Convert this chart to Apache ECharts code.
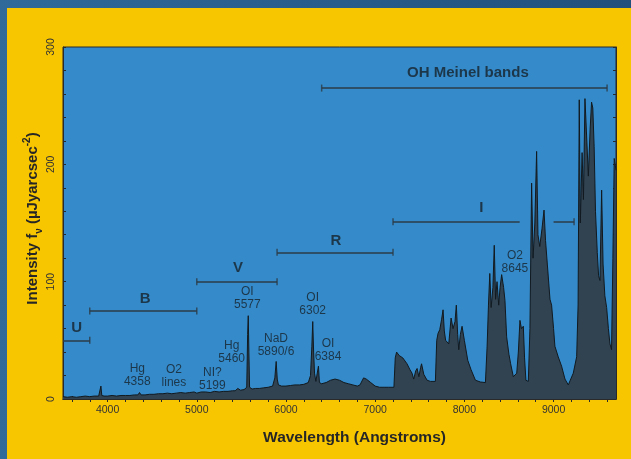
<!DOCTYPE html>
<html>
<head>
<meta charset="utf-8">
<script src="https://cdn.jsdelivr.net/npm/echarts@6/dist/echarts.min.js"></script>
<style>
html, body { margin: 0; padding: 0; width: 631px; height: 459px; overflow: hidden; background: linear-gradient(90deg, #2f6a9a, #22507c); }
#frame { position: absolute; left: 7px; top: 8px; right: 0; bottom: 0; background: #f8c600; }
#chart { position: absolute; left: 0; top: 0; width: 631px; height: 459px; }
</style>
</head>
<body>
<div id="frame"></div>
<div id="chart"></div>
<script>
// night sky spectrum
var wavelength = [3500,3550,3600,3650,3700,3750,3800,3850,3900,3915,3925,3935,3960,4000,4050,4100,4150,4200,4250,4300,4340,4358,4375,4420,4470,4520,4570,4620,4670,4720,4770,4820,4870,4920,4970,5000,5050,5100,5150,5199,5250,5300,5350,5400,5430,5460,5490,5530,5560,5570,5577,5584,5592,5620,5660,5700,5750,5800,5850,5875,5890,5902,5915,5950,6000,6050,6100,6150,6200,6250,6275,6290,6300,6310,6320,6335,6350,6364,6375,6400,6450,6500,6550,6600,6650,6700,6750,6800,6830,6870,6900,6950,7000,7050,7100,7150,7210,7225,7240,7270,7310,7357,7390,7413,7432,7455,7470,7490,7510,7520,7545,7582,7620,7675,7690,7705,7724,7745,7761,7775,7790,7825,7851,7873,7895,7910,7925,7937,7955,7974,8000,8038,8075,8124,8180,8236,8255,8270,8285,8300,8320,8335,8350,8366,8385,8400,8418,8440,8455,8474,8500,8519,8549,8587,8605,8623,8640,8661,8675,8690,8717,8735,8754,8770,8790,8810,8825,8845,8870,8893,8910,8930,8960,8978,9000,9015,9052,9090,9128,9165,9221,9259,9275,9288,9300,9320,9335,9352,9370,9390,9410,9426,9440,9455,9470,9490,9505,9520,9539,9555,9575,9595,9615,9632,9650,9665,9680,9700];
var intensity = [2,1.5,2,1.5,2,2.5,2,2.5,2.5,3,11,3,2.5,2.5,3,2.5,3,3,3,3.5,3.5,5.5,3.5,3.5,4,4,4.5,4.5,5,4.5,5,5.5,5,5.5,6,5,6,6,5.5,6.5,6,6.5,6.5,7,7,9,7.5,8,10,55,71,40,10,8.5,9,9,9.5,10,11,18,32,17,12,11,11,11.5,12,12,12.5,14,20,45,66,40,22,15,16,28,14,13,14,16,17,16,14,13,12,11,12,18,17,14,11,10,10,10,10,35,40,37,35,30,25,22,17,24,26,19,27,30,21,16,15,15,50,56,59,68,76,58,50,47,69,60,66,80,55,42,55,62,50,33,25,16,14.5,14,45,80,107,78,95,131,85,100,80,95,106,95,84,53,38,30,19,22,40,67,60,62,35,16,15,60,184,120,150,211,140,130,145,161,135,115,85,80,60,45,36,28,17,12,22,36,80,255,150,210,170,256,225,190,230,253,248,215,160,125,105,101,178,115,88,78,60,47,42,120,205,195];

// photometric bands and the OH bands
var bandNames = ['U', 'B', 'V', 'R', 'I', 'I', 'OH Meinel bands'];
var bandStart = [3500, 3800, 5000, 5900, 7200, 9000, 6400];
var bandEnd = [3800, 5000, 5900, 7200, 8620, 9230, 9600];
var bandLevel = [50, 75, 100, 125, 151, 151, 265];
var capX = [3800, 3800, 5000, 5000, 5900, 5900, 7200, 7200, 9230, 6400, 9600];
var capY = [50, 75, 75, 100, 100, 125, 125, 151, 151, 265, 265];
var bandLabelX = [3654, 4420, 5462, 6561, 8190, 8040];
var bandLabelY = [61, 85, 112, 135, 163, 278];
var bandLabelText = ['U', 'B', 'V', 'R', 'I', 'OH Meinel bands'];

// emission line labels
var lineNames = ['Hg\n4358', 'O2\nlines', 'NI?\n5199', 'Hg\n5460', 'OI\n5577', 'NaD\n5890/6', 'OI\n6302', 'OI\n6384', 'O2\n8645'];
var lineLabelX = [4333, 4744, 5174, 5391, 5567, 5888, 6299, 6471, 8567];
var lineLabelY = [20, 19.6, 17, 39.6, 85.5, 45.6, 81, 41.5, 117];

var xTicks = [3600,3800,4000,4200,4400,4600,4800,5000,5200,5400,5600,5800,6000,6200,6400,6600,6800,7000,7200,7400,7600,7800,8000,8200,8400,8600,8800,9000,9200,9400,9600];
var xTickLabels = [4000, 5000, 6000, 7000, 8000, 9000];
var yTickLabels = [0, 100, 200, 300];

var chart = echarts.init(document.getElementById('chart'));

var spectrum = wavelength.map(function (w, i) { return [w, intensity[i]]; });
var bandSegs = bandStart.map(function (s, i) { return { coords: [[s, bandLevel[i]], [bandEnd[i], bandLevel[i]]] }; });
var caps = capX.map(function (x, i) { return [x, capY[i]]; });
var bandLabels = bandLabelX.map(function (x, i) { return { name: bandLabelText[i], value: [x, bandLabelY[i]] }; });
var lineLabels = lineLabelX.map(function (x, i) { return { name: lineNames[i], value: [x, lineLabelY[i]] }; });

var font = 'Liberation Sans, Arial, sans-serif';
var axisDark = '#2a2a2a';
var textDark = '#17212b';
var titleDark = '#262626';

chart.setOption({
    animation: false,
    grid: {
        left: 63, right: 15, top: 47, bottom: 60,
        show: true,
        backgroundColor: '#358bc9',
        borderColor: axisDark,
        borderWidth: 1
    },
    xAxis: [{
        type: 'value',
        min: 3500,
        max: 9700,
        name: 'Wavelength (Angstroms)',
        nameLocation: 'middle',
        nameGap: 31,
        nameMoveOverlap: false,
        nameTextStyle: { fontFamily: font, fontSize: 15.5, fontWeight: 'bold', color: titleDark, padding: [0, 0, 0, 30] },
        axisLine: { show: true, onZero: false, lineStyle: { color: axisDark } },
        axisTick: { show: true, inside: true, length: 3, customValues: xTicks, lineStyle: { color: axisDark } },
        axisLabel: {
            customValues: xTickLabels,
            formatter: function (v) { return String(v); },
            fontFamily: font, fontSize: 10.5, color: '#333', margin: 6
        },
        splitLine: { show: false }
    }, {
        type: 'value',
        position: 'top',
        min: 3500,
        max: 9700,
        axisLine: { show: true, lineStyle: { color: axisDark } },
        axisTick: { show: true, inside: true, length: 3, customValues: xTicks, lineStyle: { color: axisDark } },
        axisLabel: { show: false },
        splitLine: { show: false }
    }],
    yAxis: [{
        type: 'value',
        min: 0,
        max: 300,
        interval: 20,
        name: '{a|Intensity f}{s|ν}{a| (µJyarcsec}{p|-2}{a|)}',
        nameLocation: 'middle',
        nameRotate: 90,
        nameGap: 19,
        nameMoveOverlap: false,
        nameTextStyle: {
            fontFamily: font, color: titleDark,
            padding: [0, 0, 0, 9],
            rich: {
                a: { fontFamily: font, fontSize: 15, fontWeight: 'bold', color: titleDark, lineHeight: 22, verticalAlign: 'middle' },
                s: { fontFamily: font, fontSize: 10, fontWeight: 'bold', color: titleDark, lineHeight: 22, verticalAlign: 'bottom', padding: [9, 0, 0, 0] },
                p: { fontFamily: font, fontSize: 10, fontWeight: 'bold', color: titleDark, lineHeight: 22, verticalAlign: 'top', padding: [0, 0, 7, 0] }
            }
        },
        axisLine: { show: true, lineStyle: { color: axisDark } },
        axisTick: { show: true, inside: true, length: 3, lineStyle: { color: axisDark } },
        axisLabel: { customValues: yTickLabels, rotate: 90, fontFamily: font, fontSize: 10.5, color: '#333', margin: 6 },
        splitLine: { show: false }
    }, {
        type: 'value',
        position: 'right',
        min: 0,
        max: 300,
        interval: 20,
        axisLine: { show: true, lineStyle: { color: axisDark } },
        axisTick: { show: true, inside: true, length: 3, lineStyle: { color: axisDark } },
        axisLabel: { show: false },
        splitLine: { show: false }
    }],
    series: [{
        type: 'line',
        data: spectrum,
        showSymbol: false,
        silent: true,
        lineStyle: { color: '#121a20', width: 1 },
        areaStyle: { color: '#314250', opacity: 1 },
        z: 2
    }, {
        type: 'lines',
        coordinateSystem: 'cartesian2d',
        data: bandSegs,
        silent: true,
        lineStyle: { color: '#2c3b47', width: 1.5, opacity: 1 },
        z: 3
    }, {
        type: 'scatter',
        data: caps,
        symbol: 'rect',
        symbolSize: [1.5, 7],
        silent: true,
        itemStyle: { color: '#2c3b47' },
        z: 3
    }, {
        type: 'scatter',
        data: bandLabels,
        symbolSize: 0,
        silent: true,
        itemStyle: { color: 'transparent' },
        label: {
            show: true, position: 'inside',
            formatter: function (p) { return p.name; },
            fontFamily: font, fontSize: 15, fontWeight: 'bold', color: textDark
        },
        z: 4
    }, {
        type: 'scatter',
        data: lineLabels,
        symbolSize: 0,
        silent: true,
        itemStyle: { color: 'transparent' },
        label: {
            show: true, position: 'inside',
            formatter: function (p) { return p.name; },
            fontFamily: font, fontSize: 12, lineHeight: 13, color: textDark, align: 'center'
        },
        z: 4
    }]
});
</script>
</body>
</html>
